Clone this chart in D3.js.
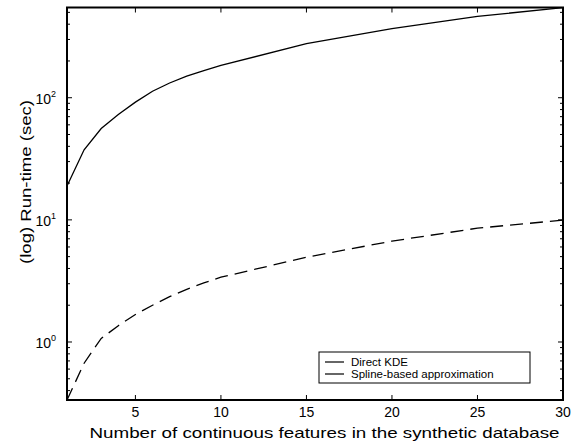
<!DOCTYPE html>
<html>
<head>
<meta charset="utf-8">
<script src="https://cdn.jsdelivr.net/npm/d3@7"></script>
<style>
  body { margin: 0; background: #fff; }
  text { font-family: "Liberation Sans", Arial, sans-serif; fill: #000; }
</style>
</head>
<body>
<div id="chart"></div>
<script>
// データ
var features = [1, 2, 3, 4, 5, 6, 7, 8, 9, 10, 15, 20, 25, 30];
var directKDE = [18.9, 37.5, 56, 73, 92, 113, 132, 150, 167, 184, 277, 368, 464, 546];
var splineApprox = [0.335, 0.67, 1.07, 1.36, 1.68, 2.0, 2.35, 2.7, 3.05, 3.39, 4.94, 6.7, 8.55, 9.95];
var xTicks = [5, 10, 15, 20, 25, 30];
var yDecades = [0, 1, 2];
var legendLabels = ["Direct KDE", "Spline-based approximation"];

var W = 583, H = 444;
var pLeft = 67, pRight = 563, pTop = 7.5, pBottom = 400;

var svg = d3.select("#chart").append("svg")
  .attr("width", W).attr("height", H);

var x = d3.scaleLinear().domain([1, 30]).range([pLeft, pRight]);
var y = d3.scaleLog().domain([0.335, 548]).range([pBottom, pTop]);

// 曲線
var line = function(vals) {
  return d3.line()
    .x(function(d, i) { return x(features[i]); })
    .y(function(d) { return y(d); })(vals);
};

svg.append("clipPath").attr("id", "clip")
  .append("rect").attr("x", pLeft).attr("y", pTop)
  .attr("width", pRight - pLeft).attr("height", pBottom - pTop);

svg.append("path")
  .attr("d", line(directKDE))
  .attr("fill", "none").attr("stroke", "#000").attr("stroke-width", 1.3)
  .attr("clip-path", "url(#clip)");

svg.append("path")
  .attr("d", line(splineApprox))
  .attr("fill", "none").attr("stroke", "#000").attr("stroke-width", 1.3)
  .attr("stroke-dasharray", "13,7")
  .attr("clip-path", "url(#clip)");

// 目盛り (内向き)
var g = svg.append("g").attr("stroke", "#000").attr("stroke-width", 1);
xTicks.forEach(function(t) {
  g.append("line").attr("x1", x(t)).attr("x2", x(t)).attr("y1", pBottom).attr("y2", pBottom - 5);
  g.append("line").attr("x1", x(t)).attr("x2", x(t)).attr("y1", pTop).attr("y2", pTop + 5);
});

var minor = [];
[-1, 0, 1, 2].forEach(function(e) {
  for (var m = 1; m <= 9; m++) {
    var v = m * Math.pow(10, e);
    if (v >= 0.335 && v <= 548) minor.push({ v: v, major: m === 1 });
  }
});
minor.forEach(function(t) {
  var len = t.major ? 5 : 3;
  g.append("line").attr("x1", pLeft).attr("x2", pLeft + len).attr("y1", y(t.v)).attr("y2", y(t.v));
  g.append("line").attr("x1", pRight).attr("x2", pRight - len).attr("y1", y(t.v)).attr("y2", y(t.v));
});

// 枠
svg.append("rect")
  .attr("x", pLeft).attr("y", pTop)
  .attr("width", pRight - pLeft).attr("height", pBottom - pTop)
  .attr("fill", "none").attr("stroke", "#000").attr("stroke-width", 2);

// 目盛りラベル
svg.selectAll(".xlab").data(xTicks).enter().append("text")
  .attr("class", "xlab")
  .attr("x", function(d) { return x(d); })
  .attr("y", 417)
  .attr("text-anchor", "middle")
  .attr("font-size", 14)
  .text(function(d) { return d; });

var ylab = svg.selectAll(".ylab").data(yDecades).enter().append("text")
  .attr("class", "ylab")
  .attr("x", 56)
  .attr("y", function(d) { return y(Math.pow(10, d)) + 6; })
  .attr("text-anchor", "end")
  .attr("font-size", 14);
ylab.append("tspan").text("10");
ylab.append("tspan").attr("font-size", 9).attr("dy", -7).text(function(d) { return d; });

// 軸タイトル
svg.append("text")
  .attr("x", 324.5).attr("y", 438)
  .attr("text-anchor", "middle").attr("font-size", 15)
  .attr("textLength", 470).attr("lengthAdjust", "spacingAndGlyphs")
  .text("Number of continuous features in the synthetic database");

svg.append("text")
  .attr("transform", "translate(31,182) rotate(-90)")
  .attr("text-anchor", "middle").attr("font-size", 15)
  .attr("textLength", 164).attr("lengthAdjust", "spacingAndGlyphs")
  .text("(log) Run-time (sec)");

// 凡例
var lg = svg.append("g");
lg.append("rect").attr("x", 319).attr("y", 352).attr("width", 211).attr("height", 31)
  .attr("fill", "#fff").attr("stroke", "#000").attr("stroke-width", 1);
legendLabels.forEach(function(lab, i) {
  var yy = 362 + i * 12;
  lg.append("line").attr("x1", 325).attr("x2", 344).attr("y1", yy).attr("y2", yy)
    .attr("stroke", "#000").attr("stroke-width", 1.2);
  lg.append("text").attr("x", 351).attr("y", yy + 4).attr("font-size", 11.5).text(lab);
});
</script>
</body>
</html>
